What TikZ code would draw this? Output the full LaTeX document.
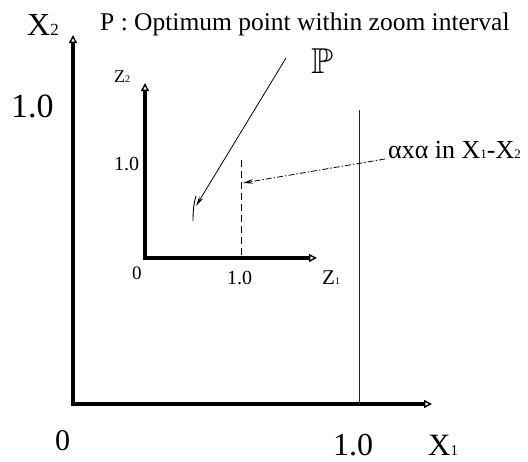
\documentclass[tikz,border=0pt]{standalone}
\usepackage{fontspec}
\setmainfont{Liberation Serif}
\usepackage{amssymb}
\usetikzlibrary{arrows.meta}
\newcommand{\fs}[1]{\fontsize{#1}{#1}\selectfont}
\begin{document}
\begin{tikzpicture}[x=1pt,y=-1pt,
  axisline/.style={line width=3.2pt, line join=miter,
    {Triangle[open,length=8pt,width=8pt,line width=1.4pt]}-{Triangle[open,length=8pt,width=8pt,line width=1.4pt]}},
  thinline/.style={line width=1pt, black!85},
  ptr/.style={line width=0.8pt, -{Stealth[length=10pt,width=4.5pt]}},
  lbl/.style={inner sep=0pt, anchor=base west}]
\useasboundingbox (0,0) rectangle (528,461);
% outer axes
\coordinate (Xtop) at (73,35);
\coordinate (O) at (73,404);
\coordinate (Xright) at (432,404);
\draw[axisline] (Xtop) -- (O) -- (Xright);
% inner axes
\coordinate (Ztop) at (145,83);
\coordinate (Oz) at (145,258);
\coordinate (Zright) at (317,258);
\draw[axisline] (Ztop) -- (Oz) -- (Zright);
% x1 = 1.0 line
\coordinate (Ltop) at (359,110);
\coordinate (Lbot) at (359,404);
\draw[thinline] (Ltop) -- (Lbot);
% z1 = 1.0 dashed line
\coordinate (Dtop) at (241,160);
\coordinate (Dbot) at (241,258);
\draw[line width=0.8pt, dash pattern=on 7pt off 4pt] (Dtop) -- (Dbot);
% point P mark
\coordinate (Pm1) at (193,221);
\coordinate (Pm2) at (196,196);
\draw[line width=0.9pt] (Pm1) .. controls (193,210) and (194,202) .. (Pm2);
% labels
\node[lbl] (x2) at (27,35) {\fs{32}X\fs{17}2};
\node[lbl] (title) at (100,30) {\fs{25.5}P : Optimum point within zoom interval};
\node[lbl] (bigP) at (311,73) {\fs{36}$\mathbb{P}$};
\node[lbl] (y1) at (11,117) {\fs{34}1.0};
\node[lbl] (z2) at (114,82) {\fs{18}Z\fs{10}2};
\node[lbl] (zy1) at (114,170) {\fs{20}1.0};
\node[lbl] (z0) at (132,279) {\fs{19}0};
\node[lbl] (zx1) at (227,284) {\fs{20}1.0};
\node[lbl] (z1) at (322,284) {\fs{21}Z\fs{10}1};
\node[lbl] (alpha) at (388,158) {\fs{26}αxα in X\fs{13}1\fs{26}-X\fs{13}2};
\node[lbl] (o0) at (55,450) {\fs{30}0};
\node[lbl] (ox1) at (333,455) {\fs{32}1.0};
\node[lbl] (x1) at (428,455) {\fs{31}X\fs{15}1};
% pointers
\coordinate (Ptail) at (286,58);
\coordinate (Ptip) at (196,206);
\draw[ptr] (Ptail) -- (Ptip);
\coordinate (Atail) at (385,159);
\coordinate (Atip) at (243,183);
\draw[ptr, dash pattern=on 6pt off 2pt on 1.5pt off 2pt] (Atail) -- (Atip);
\end{tikzpicture}
\end{document}
